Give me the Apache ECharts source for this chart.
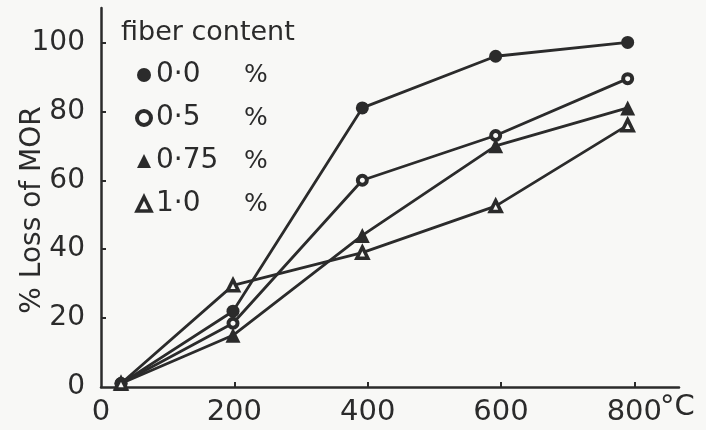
<!DOCTYPE html>
<html>
<head>
<meta charset="utf-8">
<script src="https://cdn.jsdelivr.net/npm/echarts@6/dist/echarts.min.js"></script>
<style>
  html, body { margin: 0; padding: 0; background: #f8f8f6; }
  #chart { width: 706px; height: 430px; }
</style>
</head>
<body>
<div id="chart"></div>
<script>
// Temperature (°C) at which each specimen was tested
const temperatures = [30, 198, 392, 592, 790];

// % loss of modulus of rupture for each fibre content
const loss00 = [1, 22, 81, 96, 100];
const loss05 = [1, 18.5, 60, 73, 89.5];
const loss075 = [1, 15, 44, 70, 81];
const loss10 = [1, 29.5, 39, 52.5, 76];

const seriesNames = ['0·0', '0·5', '0·75', '1·0'];
const xTicks = [0, 200, 400, 600, 800];
const yTicks = [0, 20, 40, 60, 80, 100];

const ink = '#2b2b2b';
const paper = '#f8f8f6';
const font = 'DejaVu Sans';

function pairs(xs, ys) {
  return xs.map((x, i) => [x, ys[i]]);
}

const markerStyles = [
  { symbol: 'circle', symbolSize: 13, itemStyle: { color: ink, borderColor: ink, borderWidth: 0 } },
  { symbol: 'circle', symbolSize: 9, itemStyle: { color: paper, borderColor: ink, borderWidth: 4 } },
  { symbol: 'triangle', symbolSize: 15, itemStyle: { color: ink, borderColor: ink, borderWidth: 0 } },
  { symbol: 'triangle', symbolSize: 11, itemStyle: { color: paper, borderColor: ink, borderWidth: 3.5 } }
];

const values = [loss00, loss05, loss075, loss10];

const chart = echarts.init(document.getElementById('chart'));
chart.setOption({
  backgroundColor: paper,
  animation: false,
  title: {
    text: 'fiber content',
    left: 116,
    top: 14,
    textStyle: { fontFamily: font, fontSize: 27, fontWeight: 'normal', color: ink }
  },
  legend: {
    orient: 'vertical',
    left: 130,
    top: 56,
    itemGap: 15,
    itemWidth: 14,
    itemHeight: 14,
    data: seriesNames.map((n, i) => ({
      name: n,
      icon: markerStyles[i].symbol,
      itemStyle: markerStyles[i].itemStyle
    })),
    formatter: name => '{a|' + name + '}{b|%}',
    textStyle: {
      color: ink,
      fontFamily: font,
      rich: {
        a: { fontFamily: font, fontSize: 28, color: ink, width: 88, lineHeight: 30 },
        b: { fontFamily: font, fontSize: 25, color: ink, lineHeight: 30 }
      }
    }
  },
  grid: { left: 101, right: 27, top: 8, bottom: 43, outerBoundsMode: 'none', containLabel: false },
  xAxis: {
    type: 'value',
    min: 0,
    max: 867,
    interval: 200,
    splitLine: { show: false },
    axisLine: { lineStyle: { color: ink, width: 2.5 } },
    axisTick: { inside: true, length: 5, lineStyle: { color: ink, width: 2 }, customValues: xTicks.slice(1) },
    axisLabel: {
      customValues: xTicks,
      margin: 11,
      color: ink,
      fontFamily: font,
      fontSize: 29
    }
  },
  yAxis: {
    type: 'value',
    min: 0,
    max: 110,
    interval: 20,
    splitLine: { show: false },
    axisLine: { lineStyle: { color: ink, width: 2.5 } },
    axisTick: { inside: true, length: 5, lineStyle: { color: ink, width: 2 }, customValues: yTicks.slice(1) },
    axisLabel: {
      customValues: yTicks,
      margin: 16,
      color: ink,
      fontFamily: font,
      fontSize: 28
    }
  },
  graphic: [
    {
      type: 'text',
      x: 33,
      y: 210,
      rotation: Math.PI / 2,
      style: {
        text: '% Loss of MOR',
        fontFamily: font,
        fontSize: 28,
        fill: ink,
        align: 'center',
        verticalAlign: 'middle'
      }
    },
    {
      type: 'text',
      left: 660,
      top: 393,
      style: { text: '°C', fontFamily: font, fontSize: 29, fill: ink }
    }
  ],
  series: values.map((v, i) => ({
    name: seriesNames[i],
    type: 'line',
    data: pairs(temperatures, v),
    symbol: markerStyles[i].symbol,
    symbolSize: markerStyles[i].symbolSize,
    showAllSymbol: true,
    itemStyle: markerStyles[i].itemStyle,
    lineStyle: { color: ink, width: 2.8 },
    z: 2 + i
  }))
});
</script>
</body>
</html>
